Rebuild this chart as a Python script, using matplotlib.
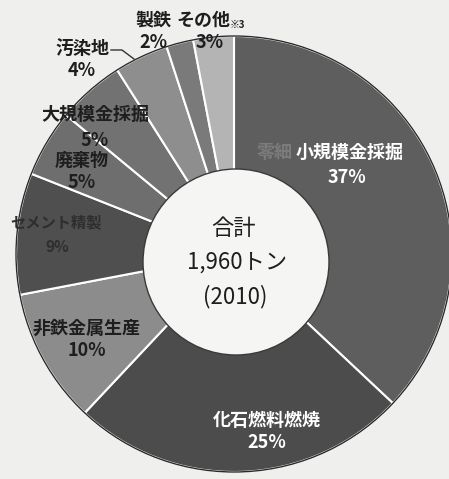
import matplotlib
matplotlib.use("Agg")
import matplotlib.pyplot as plt
from matplotlib.patches import Circle

plt.rcParams['font.family'] = ['Noto Sans CJK JP', 'DejaVu Sans']

categories = ["零細・小規模金採掘", "化石燃料燃焼", "非鉄金属生産", "セメント精製",
              "廃棄物", "大規模金採掘", "汚染地", "製鉄", "その他※3"]
values = [37, 25, 10, 9, 5, 5, 4, 2, 3]
colors = ["#5e5e5e", "#4c4c4c", "#8c8c8c", "#4f4f4f", "#6e6e6e",
          "#727272", "#8e8e8e", "#7a7a7a", "#b4b4b4"]
total_lines = ["合計", "1,960トン", "(2010)"]

W, H = 449, 479
fig = plt.figure(figsize=(W / 100, H / 100), dpi=100)
fig.patch.set_facecolor("#efefed")
ax = fig.add_axes([0, 0, 1, 1])

cx, cy, R = 234, H - 254, 218
ax.pie(values, colors=colors, startangle=90, counterclock=False,
       center=(cx, cy), radius=R, frame=True,
       wedgeprops=dict(width=R - 80, edgecolor="white", linewidth=1.5))
ax.add_patch(Circle((cx, cy), R, fill=False, edgecolor="#2a2a2a", linewidth=1.0))
ax.add_patch(Circle((236, H - 262), 93, facecolor="#f5f5f3",
                    edgecolor="#3a3a3a", linewidth=1.0, zorder=3))
ax.set_xlim(0, W)
ax.set_ylim(0, H)
ax.set_aspect("equal")
ax.axis("off")


def T(x, y, s, color="#1e1e1e", size=13, weight="bold", **kw):
    ax.text(x, H - y, s, color=color, fontsize=size, fontweight=weight,
            ha="center", va="center", zorder=5, **kw)


# labels (pixel positions from top-left)
T(275, 152, "零細", color="#7c7c7c")
T(350, 152, "小規模金採掘", color="white")
T(347, 177, f"{values[0]}%", color="white")
T(267, 420, categories[1], color="white")
T(267, 443, f"{values[1]}%", color="white")
T(87, 328, categories[2])
T(87, 350, f"{values[2]}%")
T(56, 222, categories[3], color="#2e2e2e", size=11)
T(57, 247, f"{values[3]}%", color="#2e2e2e", size=11)
T(82, 160, categories[4])
T(82, 182, f"{values[4]}%")
T(95, 114, categories[5])
T(95, 140, f"{values[5]}%")
T(82, 48, categories[6])
T(82, 70, f"{values[6]}%")
T(153, 20, categories[7])
T(153, 42, f"{values[7]}%")
T(203, 20, "その他")
T(237, 25, "※3", size=7)
T(210, 42, f"{values[8]}%")

# leader line for 汚染地
ax.plot([111, 122, 134], [H - 50, H - 50, H - 59], color="#333333", lw=1.0, zorder=5)

# center text
T(234, 228, total_lines[0], size=16, weight="normal")
T(237, 262, total_lines[1], size=16, weight="normal")
T(235, 297, total_lines[2], size=16, weight="normal")

fig.savefig("out.png", dpi=100, facecolor=fig.get_facecolor())
